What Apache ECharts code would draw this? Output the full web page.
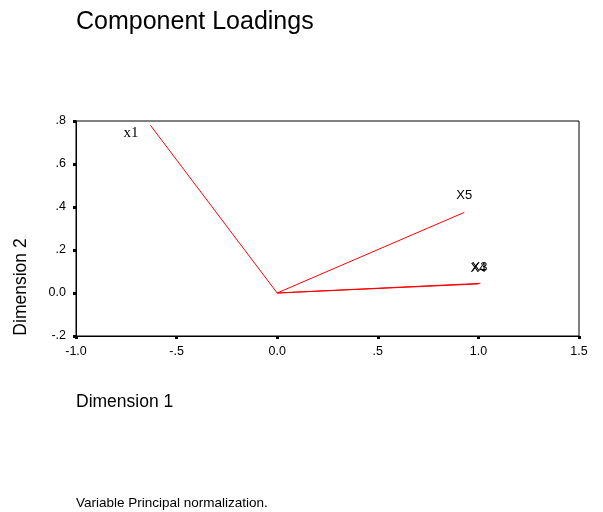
<!DOCTYPE html>
<html>
<head>
<meta charset="utf-8">
<script src="https://cdn.jsdelivr.net/npm/echarts@6/dist/echarts.min.js"></script>
<style>html,body{margin:0;padding:0;background:#fff;}#c{width:603px;height:512px;}</style>
</head>
<body>
<div id="c"></div>
<script>
var varNames = ['x1', 'X5', 'X3', 'X4'];
var dim1 = [-0.63, 0.93, 1.01, 1.00];
var dim2 = [0.78, 0.375, 0.045, 0.042];
var xTickValues = [-1.0, -0.5, 0.0, 0.5, 1.0, 1.5];
var xTickLabels = ['-1.0', '-.5', '0.0', '.5', '1.0', '1.5'];
var yTickValues = [-0.2, 0.0, 0.2, 0.4, 0.6, 0.8];
var yTickLabels = ['-.2', '0.0', '.2', '.4', '.6', '.8'];

function lookup(vals, labels, v) {
  for (var i = 0; i < vals.length; i++) if (Math.abs(vals[i] - v) < 1e-6) return labels[i];
  return '';
}

var labelStyles = [
  {position: 'left', distance: 10, offset: [-1, 8], fontFamily: 'Liberation Serif', fontSize: 15},
  {position: 'top', distance: 9, offset: [0, 0], fontFamily: 'Liberation Sans', fontSize: 13},
  {position: 'top', distance: 8, offset: [-1, 0], fontFamily: 'Liberation Sans', fontSize: 13},
  {position: 'top', distance: 8, offset: [0, 0], fontFamily: 'Liberation Sans', fontSize: 13}
];

var series = varNames.map(function (n, i) {
  return {
    type: 'line',
    name: n,
    symbol: 'none',
    animation: false,
    lineStyle: {color: '#ff0000', width: 1},
    data: [[0, 0], [dim1[i], dim2[i]]]
  };
});

series.push({
  type: 'scatter',
  name: 'labels',
  symbolSize: 2,
  animation: false,
  silent: true,
  itemStyle: {color: '#ffffff', opacity: 0},
  data: varNames.map(function (n, i) {
    var ls = labelStyles[i];
    return {
      value: [dim1[i], dim2[i]],
      label: {show: true, formatter: n, position: ls.position, distance: ls.distance, opacity: 1,
              offset: ls.offset, color: '#000000', fontFamily: ls.fontFamily, fontSize: ls.fontSize}
    };
  })
});

var chart = echarts.init(document.getElementById('c'), null, {renderer: 'canvas'});
chart.setOption({
  backgroundColor: '#fff',
  animation: false,
  title: [
    {text: 'Component Loadings', left: 71, top: 5,
     textStyle: {fontFamily: 'Liberation Sans', fontSize: 25, fontWeight: 'normal', color: '#000'}},
    {text: 'Dimension 1', left: 71, top: 388,
     textStyle: {fontFamily: 'Liberation Sans', fontSize: 17.5, fontWeight: 'normal', color: '#000'}},
    {text: 'Variable Principal normalization.', left: 71, top: 491,
     textStyle: {fontFamily: 'Liberation Sans', fontSize: 13.5, fontWeight: 'normal', color: '#000'}}
  ],
  graphic: [
    {type: 'text', x: 21, y: 287, rotation: Math.PI / 2,
     style: {text: 'Dimension 2', fill: '#000', font: '17.5px "Liberation Sans"', align: 'center', verticalAlign: 'middle'}}
  ],
  grid: {left: 76, right: 24, top: 121, bottom: 176, show: true, borderColor: '#000', borderWidth: 1, backgroundColor: 'transparent'},
  xAxis: {
    type: 'value', min: -1.0, max: 1.5, interval: 0.5,
    axisLine: {show: true, onZero: false, lineStyle: {color: '#000', width: 1}},
    axisTick: {show: true, length: 3, lineStyle: {color: '#000', width: 3}},
    splitLine: {show: false},
    axisLabel: {color: '#000', fontFamily: 'Liberation Sans', fontSize: 12.5, margin: 9,
                formatter: function (v) { return lookup(xTickValues, xTickLabels, v); }}
  },
  yAxis: {
    type: 'value', min: -0.2, max: 0.8, interval: 0.2,
    axisLine: {show: true, onZero: false, lineStyle: {color: '#000', width: 1}},
    axisTick: {show: true, length: 3, lineStyle: {color: '#000', width: 3}},
    splitLine: {show: false},
    axisLabel: {color: '#000', fontFamily: 'Liberation Sans', fontSize: 12.5, margin: 10,
                formatter: function (v) { return lookup(yTickValues, yTickLabels, v); }}
  },
  series: series
});
</script>
</body>
</html>
